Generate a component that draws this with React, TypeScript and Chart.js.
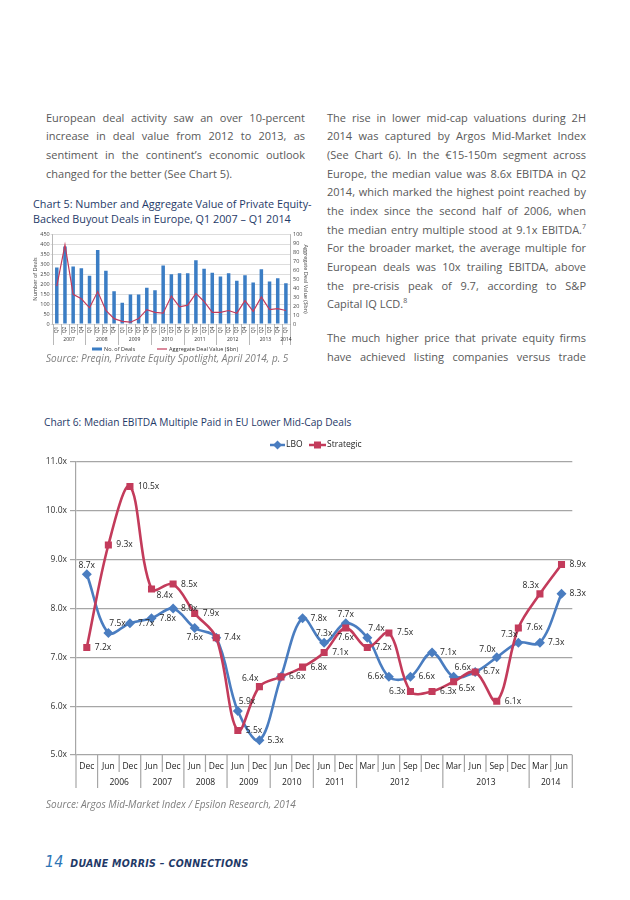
import React, { useEffect, useRef } from 'react';
import { Chart, registerables } from 'chart.js';
Chart.register(...registerables);

const FONT = "'Open Sans', 'Noto Sans', sans-serif";
const BLUE = '#4A7DC0';
const RED = '#C33B5B';
const NAVY = '#1F3A68';

// ---------- Chart 5 data ----------
const quarterLabels = [
  'Q1', 'Q2', 'Q3', 'Q4', 'Q1', 'Q2', 'Q3', 'Q4', 'Q1', 'Q2', 'Q3', 'Q4', 'Q1', 'Q2', 'Q3', 'Q4',
  'Q1', 'Q2', 'Q3', 'Q4', 'Q1', 'Q2', 'Q3', 'Q4', 'Q1', 'Q2', 'Q3', 'Q4', 'Q1',
];
const quarterYears = [
  '2007', '2007', '2007', '2007', '2008', '2008', '2008', '2008', '2009', '2009', '2009', '2009',
  '2010', '2010', '2010', '2010', '2011', '2011', '2011', '2011', '2012', '2012', '2012', '2012',
  '2013', '2013', '2013', '2013', '2014',
];
const dealCounts = [
  282, 388, 287, 279, 241, 370, 266, 164, 106, 148, 148, 181, 169, 292, 249, 254,
  254, 319, 276, 256, 238, 254, 216, 244, 208, 274, 213, 229, 204,
];
const dealValues = [
  42, 88, 33, 28, 18, 36, 15, 6, 3, 2, 6, 16, 13, 12, 31, 19,
  21, 34, 25, 13, 13, 15, 12, 26, 14, 30, 16, 17, 15,
];
const dealCountTicks = [0, 50, 100, 150, 200, 250, 300, 350, 400, 450];
const dealValueTicks = [0, 10, 20, 30, 40, 50, 60, 70, 80, 90, 100];

// ---------- Chart 6 data ----------
const periodMonths = [
  'Dec', 'Jun', 'Dec', 'Jun', 'Dec', 'Jun', 'Dec', 'Jun', 'Dec', 'Jun', 'Dec', 'Jun', 'Dec',
  'Mar', 'Jun', 'Sep', 'Dec', 'Mar', 'Jun', 'Sep', 'Dec', 'Mar', 'Jun',
];
const periodYears = [
  '', '2006', '2006', '2007', '2007', '2008', '2008', '2009', '2009', '2010', '2010', '2011', '2011',
  '2012', '2012', '2012', '2012', '2013', '2013', '2013', '2013', '2014', '2014',
];
const lboMultiples = [
  8.7, 7.5, 7.7, 7.8, 8.0, 7.6, 7.4, 5.9, 5.3, 6.6, 7.8, 7.3, 7.7, 7.4, 6.6, 6.6, 7.1, 6.6, 6.7, 7.0, 7.3, 7.3, 8.3,
];
const strategicMultiples = [
  7.2, 9.3, 10.5, 8.4, 8.5, 7.9, 7.4, 5.5, 6.4, 6.6, 6.8, 7.1, 7.6, 7.2, 7.5, 6.3, 6.3, 6.5, 6.7, 6.1, 7.6, 8.3, 8.9,
];
const multipleTicks = [5, 6, 7, 8, 9, 10, 11];

// label placement (style only; '-' = label shared with the other series)
const lboLabelPlace = ['t', 'tr', 'r', 'r', 'r', 'b', 'r', 'tr', 'r', 'r', 'r', 't', 't', 'tr', 'l', 'r', 'r', 'tr', 'r', 'tl', 'tl', 'r', 'r'];
const stratLabelPlace = ['r', 'r', 'r', 'br', 'r', 'r', '-', 'r', 'tl', '-', 'r', 'r', 'b', 'r', 'r', 'l', 'r', 'br', '-', 'r', 'r', 'tl', 'r'];

function Chart5() {
  const ref = useRef<HTMLCanvasElement>(null);
  useEffect(() => {
    const axisPlugin = {
      id: 'c5axis',
      afterDraw(chart: any) {
        const { ctx, chartArea } = chart;
        const xs = chart.scales.x;
        const n = quarterLabels.length;
        const w = (chartArea.right - chartArea.left) / n;
        const b = chartArea.bottom;
        ctx.save();
        ctx.strokeStyle = '#a6a6a6';
        ctx.lineWidth = 0.8;
        for (let i = 0; i <= n; i++) {
          const px = Math.round(chartArea.left + i * w) + 0.5;
          const yb = i === 0 || i === n || quarterYears[i] !== quarterYears[i - 1];
          ctx.beginPath();
          ctx.moveTo(px, b);
          ctx.lineTo(px, b + (yb ? 21 : 11));
          ctx.stroke();
        }
        ctx.fillStyle = '#333';
        ctx.font = `5px ${FONT}`;
        for (let i = 0; i < n; i++) {
          const cx = xs.getPixelForValue(i);
          ctx.save();
          ctx.translate(cx, b + 6);
          ctx.rotate(-Math.PI / 2);
          ctx.textAlign = 'center';
          ctx.textBaseline = 'middle';
          ctx.fillText(quarterLabels[i], 0, 0);
          ctx.restore();
        }
        let start = 0;
        ctx.textAlign = 'center';
        ctx.textBaseline = 'middle';
        for (let i = 1; i <= n; i++) {
          if (i === n || quarterYears[i] !== quarterYears[start]) {
            const x0 = chartArea.left + start * w;
            const x1 = chartArea.left + i * w;
            ctx.fillText(quarterYears[start], (x0 + x1) / 2, b + 16);
            start = i;
          }
        }
        // legend
        const ly = b + 25;
        ctx.fillStyle = '#3B7DC4';
        ctx.fillRect(64, ly - 1.5, 10, 3);
        ctx.strokeStyle = RED;
        ctx.lineWidth = 1.2;
        ctx.beginPath();
        ctx.moveTo(129, ly);
        ctx.lineTo(139, ly);
        ctx.stroke();
        ctx.fillStyle = '#333';
        ctx.font = `5.5px ${FONT}`;
        ctx.textAlign = 'left';
        ctx.fillText('No. of Deals', 76, ly);
        ctx.fillText('Aggregate Deal Value ($bn)', 141, ly);
        ctx.restore();
      },
    };
    const tickFont = { size: 5.5, family: FONT };
    const chart = new Chart(ref.current as HTMLCanvasElement, {
      type: 'bar',
      data: {
        labels: quarterLabels.map((q, i) => `${q} ${quarterYears[i]}`),
        datasets: [
          {
            type: 'line',
            label: 'Aggregate Deal Value ($bn)',
            data: dealValues,
            yAxisID: 'y1',
            borderColor: RED,
            borderWidth: 1.2,
            pointRadius: 0,
            tension: 0,
            order: 0,
          } as any,
          {
            type: 'bar',
            label: 'No. of Deals',
            data: dealCounts,
            yAxisID: 'y',
            backgroundColor: '#3B7DC4',
            barPercentage: 0.43,
            categoryPercentage: 1,
            order: 1,
          },
        ],
      },
      options: {
        animation: false,
        responsive: false,
        layout: { padding: { top: 6, left: 0, right: 0, bottom: 0 } },
        plugins: { legend: { display: false }, tooltip: { enabled: false } },
        scales: {
          x: {
            type: 'category',
            offset: true,
            grid: { display: false },
            border: { display: false },
            ticks: { display: false },
            afterFit: (s: any) => { s.height = 30; },
          },
          y: {
            position: 'left',
            min: 0,
            max: 450,
            afterBuildTicks: (s: any) => { s.ticks = dealCountTicks.map((v) => ({ value: v })); },
            ticks: { font: tickFont, color: '#444', padding: 1, autoSkip: false },
            grid: { color: '#d4d4d4', lineWidth: 0.8, tickLength: 2 },
            border: { color: '#a6a6a6', width: 0.8 },
            title: { display: true, text: 'Number of Deals', font: tickFont, color: '#444', padding: { top: 4, bottom: 0 } },
            afterFit: (s: any) => { s.width = 24.7; },
          },
          y1: {
            position: 'right',
            min: 0,
            max: 100,
            afterBuildTicks: (s: any) => { s.ticks = dealValueTicks.map((v) => ({ value: v })); },
            ticks: { font: tickFont, color: '#444', padding: 1, autoSkip: false },
            grid: { display: false, tickLength: 2 },
            border: { color: '#a6a6a6', width: 0.8 },
            title: { display: true, text: 'Aggregate Deal Value ($bn)', font: tickFont, color: '#444', padding: { top: 11, bottom: 0 } },
            afterFit: (s: any) => { s.width = 30; },
          },
        },
      } as any,
      plugins: [axisPlugin],
    });
    return () => chart.destroy();
  }, []);
  return (
    <canvas ref={ref} width={292} height={126} style={{ position: 'absolute', left: 28, top: 228, width: 292, height: 126 }} />
  );
}

function Chart6() {
  const ref = useRef<HTMLCanvasElement>(null);
  useEffect(() => {
    const axisPlugin = {
      id: 'c6axis',
      afterDraw(chart: any) {
        const { ctx, chartArea } = chart;
        const xs = chart.scales.x;
        const n = periodMonths.length;
        const w = (chartArea.right - chartArea.left) / n;
        const b = chartArea.bottom;
        ctx.save();
        ctx.strokeStyle = '#a6a6a6';
        ctx.lineWidth = 1.2;
        for (let i = 0; i <= n; i++) {
          const px = chartArea.left + i * w;
          const yb = i === 0 || i === n || periodYears[i] !== periodYears[i - 1];
          ctx.beginPath();
          ctx.moveTo(px, b);
          ctx.lineTo(px, b + (yb ? 33 : 17));
          ctx.stroke();
        }
        ctx.fillStyle = '#222';
        ctx.font = `8.5px ${FONT}`;
        ctx.textAlign = 'center';
        ctx.textBaseline = 'middle';
        for (let i = 0; i < n; i++) {
          ctx.fillText(periodMonths[i], xs.getPixelForValue(i), b + 12);
        }
        let start = 0;
        for (let i = 1; i <= n; i++) {
          if (i === n || periodYears[i] !== periodYears[start]) {
            const x0 = chartArea.left + start * w;
            const x1 = chartArea.left + i * w;
            if (periodYears[start]) ctx.fillText(periodYears[start], (x0 + x1) / 2, b + 28);
            start = i;
          }
        }
        // data labels
        ctx.font = `8.5px ${FONT}`;
        ctx.fillStyle = '#262626';
        const drawLabels = (dsIndex: number, values: number[], place: string[]) => {
          const meta = chart.getDatasetMeta(dsIndex);
          meta.data.forEach((pt: any, i: number) => {
            const p = place[i];
            if (p === '-') return;
            const t = `${values[i].toFixed(1)}x`;
            let x = pt.x, y = pt.y;
            let align: CanvasTextAlign = 'left';
            if (p === 'r') { x += 8; }
            else if (p === 'l') { x -= 5; align = 'right'; }
            else if (p === 't') { y -= 9; align = 'center'; }
            else if (p === 'b') { y += 10; align = 'center'; }
            else if (p === 'tr') { x += 1; y -= 9; }
            else if (p === 'tl') { x -= 1; y -= 8; align = 'right'; }
            else if (p === 'br') { x += 5; y += 7; }
            ctx.textAlign = align;
            ctx.textBaseline = 'middle';
            ctx.fillText(t, x, y);
          });
        };
        drawLabels(0, lboMultiples, lboLabelPlace);
        drawLabels(1, strategicMultiples, stratLabelPlace);
        // legend
        const ly = 15;
        ctx.lineWidth = 2.5;
        ctx.strokeStyle = BLUE;
        ctx.beginPath(); ctx.moveTo(250, ly); ctx.lineTo(265, ly); ctx.stroke();
        ctx.fillStyle = BLUE;
        ctx.beginPath(); ctx.moveTo(257.5, ly - 4.5); ctx.lineTo(262, ly); ctx.lineTo(257.5, ly + 4.5); ctx.lineTo(253, ly); ctx.closePath(); ctx.fill();
        ctx.strokeStyle = RED;
        ctx.beginPath(); ctx.moveTo(289, ly); ctx.lineTo(306, ly); ctx.stroke();
        ctx.fillStyle = RED;
        ctx.fillRect(294, ly - 3.5, 7, 7);
        ctx.fillStyle = '#222';
        ctx.font = `8.5px ${FONT}`;
        ctx.textAlign = 'left';
        ctx.fillText('LBO', 266, ly);
        ctx.fillText('Strategic', 307, ly);
        ctx.restore();
      },
    };
    const chart = new Chart(ref.current as HTMLCanvasElement, {
      type: 'line',
      data: {
        labels: periodMonths.map((m, i) => `${m} ${periodYears[i]}`),
        datasets: [
          {
            label: 'LBO',
            data: lboMultiples,
            borderColor: BLUE,
            backgroundColor: BLUE,
            pointBackgroundColor: BLUE,
            pointBorderColor: BLUE,
            pointStyle: 'rectRot',
            pointRadius: 5,
            pointBorderWidth: 0,
            borderWidth: 2.6,
            tension: 0.35,
            order: 1,
          },
          {
            label: 'Strategic',
            data: strategicMultiples,
            borderColor: RED,
            backgroundColor: RED,
            pointBackgroundColor: RED,
            pointBorderColor: RED,
            pointStyle: 'rect',
            pointRadius: 5,
            pointBorderWidth: 0,
            borderWidth: 2.6,
            tension: 0.35,
            order: 0,
          },
        ],
      },
      options: {
        animation: false,
        responsive: false,
        layout: { padding: { top: 32, right: 27.7, left: 0, bottom: 0 } },
        plugins: { legend: { display: false }, tooltip: { enabled: false } },
        scales: {
          x: {
            type: 'category',
            offset: true,
            grid: { display: false },
            border: { display: false },
            ticks: { display: false },
            afterFit: (s: any) => { s.height = 45; },
          },
          y: {
            min: 5,
            max: 11,
            afterBuildTicks: (s: any) => { s.ticks = multipleTicks.map((v) => ({ value: v })); },
            ticks: {
              font: { size: 8.5, family: FONT },
              color: '#333',
              padding: 3,
              autoSkip: false,
              callback: (v: any) => `${Number(v).toFixed(1)}x`,
            },
            grid: { color: '#a6a6a6', lineWidth: 1.2, tickLength: 6 },
            border: { color: '#a6a6a6', width: 1.2 },
            afterFit: (s: any) => { s.width = 56; },
          },
        },
      } as any,
      plugins: [axisPlugin],
    });
    return () => chart.destroy();
  }, []);
  return (
    <canvas ref={ref} width={580} height={370} style={{ position: 'absolute', left: 20, top: 430, width: 580, height: 370 }} />
  );
}

const LH = 18.7;

function Lines({ lines, left, top, lastNatural }: { lines: React.ReactNode[]; left: number; top: number; lastNatural: boolean }) {
  return (
    <div style={{ position: 'absolute', left, top, width: 259, fontSize: 11, lineHeight: `${LH}px`, color: '#595959', fontFamily: FONT }}>
      {lines.map((l, i) => (
        <div
          key={i}
          style={{
            height: LH,
            textAlign: 'justify',
            textAlignLast: lastNatural && i === lines.length - 1 ? 'left' : 'justify',
          } as any}
        >
          {l}
        </div>
      ))}
    </div>
  );
}

const supStyle: React.CSSProperties = { fontSize: 7, verticalAlign: 'top', lineHeight: '12px' };

export default function App() {
  return (
    <div style={{ position: 'absolute', left: 0, top: 0, width: 630, height: 900, background: '#fff', overflow: 'hidden', fontFamily: FONT }}>
      <Lines
        left={46}
        top={108.6}
        lastNatural
        lines={[
          'European deal activity saw an over 10-percent',
          'increase in deal value from 2012 to 2013, as',
          'sentiment in the continent’s economic outlook',
          'changed for the better (See Chart 5).',
        ]}
      />
      <Lines
        left={327}
        top={108.6}
        lastNatural
        lines={[
          'The rise in lower mid-cap valuations during 2H',
          '2014 was captured by Argos Mid-Market Index',
          '(See Chart 6). In the €15-150m segment across',
          'Europe, the median value was 8.6x EBITDA in Q2',
          '2014, which marked the highest point reached by',
          'the index since the second half of 2006, when',
          <>the median entry multiple stood at 9.1x EBITDA.<span style={supStyle}>7</span></>,
          'For the broader market, the average multiple for',
          'European deals was 10x trailing EBITDA, above',
          'the pre-crisis peak of 9.7, according to S&P',
          <>Capital IQ LCD.<span style={supStyle}>8</span></>,
        ]}
      />
      <Lines
        left={327}
        top={329}
        lastNatural={false}
        lines={[
          'The much higher price that private equity firms',
          'have achieved listing companies versus trade',
        ]}
      />

      <div style={{ position: 'absolute', left: 33, top: 197, fontSize: 10.8, lineHeight: '14.5px', color: NAVY, whiteSpace: 'nowrap' }}>
        <div>Chart 5: Number and Aggregate Value of Private Equity-</div>
        <div>Backed Buyout Deals in Europe, Q1 2007 – Q1 2014</div>
      </div>
      <Chart5 />
      <div style={{ position: 'absolute', left: 46, top: 351, fontSize: 10, lineHeight: '14px', color: '#7f7f7f', fontStyle: 'italic', whiteSpace: 'nowrap' }}>
        Source: Preqin, Private Equity Spotlight, April 2014, p. 5
      </div>

      <div style={{ position: 'absolute', left: 44, top: 415, fontSize: 10.2, lineHeight: '14px', color: NAVY, whiteSpace: 'nowrap' }}>
        Chart 6: Median EBITDA Multiple Paid in EU Lower Mid-Cap Deals
      </div>
      <Chart6 />
      <div style={{ position: 'absolute', left: 46, top: 797, fontSize: 10, lineHeight: '14px', color: '#7f7f7f', fontStyle: 'italic', whiteSpace: 'nowrap' }}>
        Source: Argos Mid-Market Index / Epsilon Research, 2014
      </div>

      <div style={{ position: 'absolute', left: 45, top: 851, height: 22, lineHeight: '22px', whiteSpace: 'nowrap', fontFamily: "'Liberation Sans Narrow', 'DejaVu Sans Condensed', sans-serif", fontStyle: 'italic' }}>
        <span style={{ fontSize: 16, color: '#2E75B6' }}>14</span>
        <span style={{ fontSize: 10.5, fontWeight: 'bold', color: NAVY, letterSpacing: 0.3, marginLeft: 7 }}>DUANE MORRIS – CONNECTIONS</span>
      </div>
    </div>
  );
}
